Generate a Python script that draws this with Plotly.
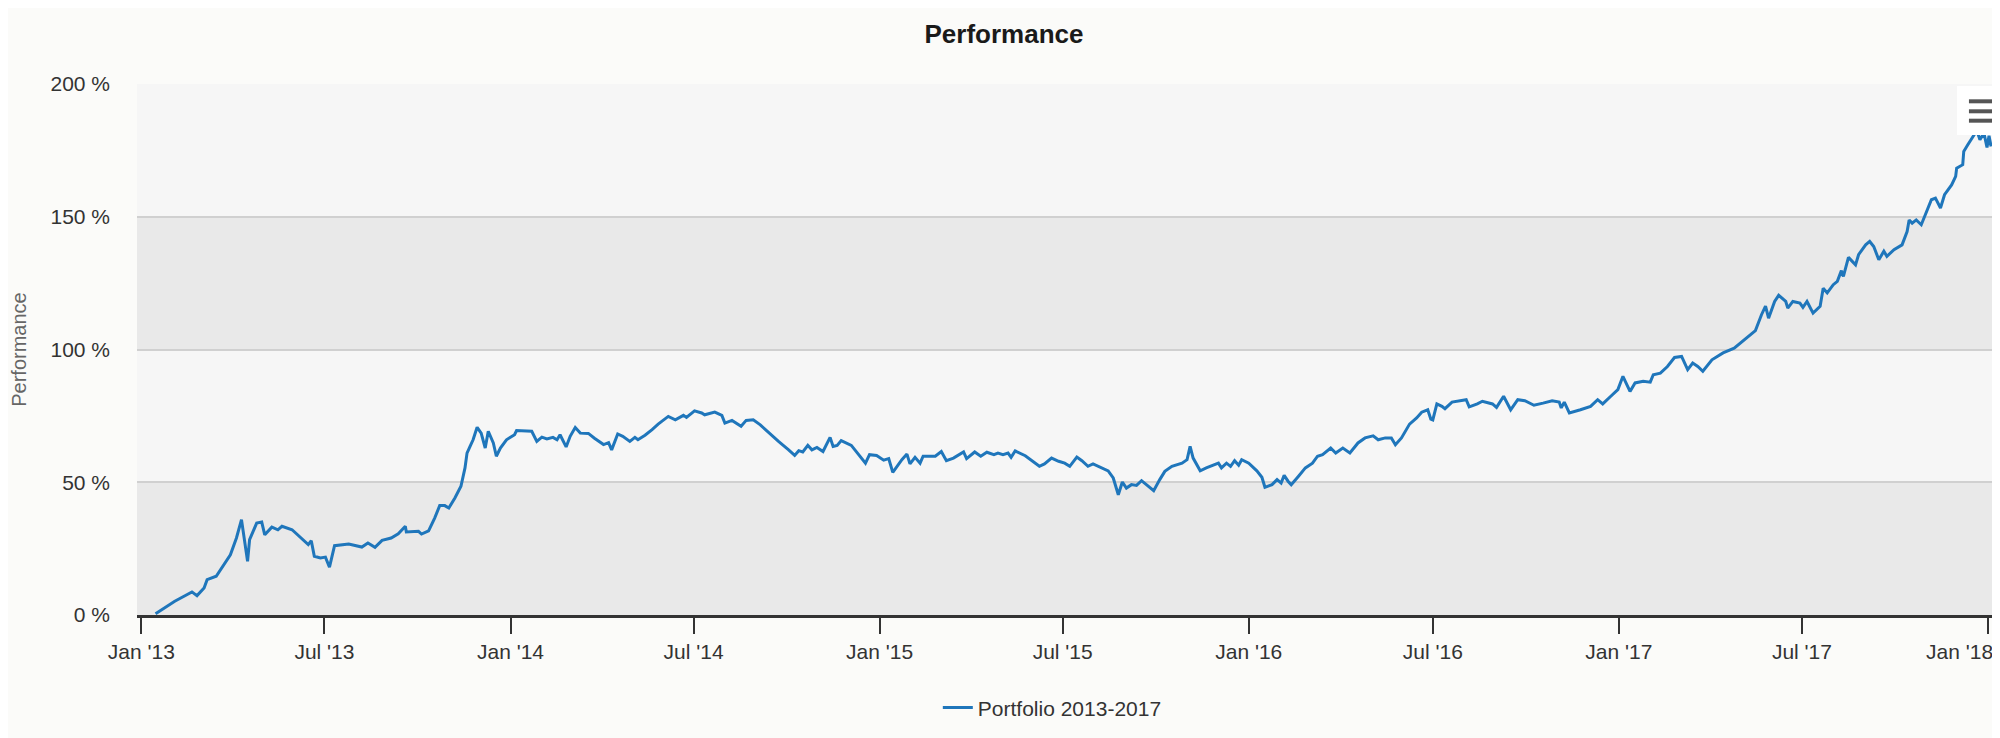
import plotly.graph_objects as go
import pandas as pd

# ---------------- data ----------------
dates = [
    "2013-01-15", "2013-02-03", "2013-02-20", "2013-02-25", "2013-03-04", "2013-03-07", "2013-03-16",
    "2013-03-23", "2013-03-30", "2013-04-05", "2013-04-10", "2013-04-16", "2013-04-18", "2013-04-25",
    "2013-04-30", "2013-05-03", "2013-05-10", "2013-05-16", "2013-05-20", "2013-05-30", "2013-06-08",
    "2013-06-15", "2013-06-18", "2013-06-21", "2013-06-27", "2013-07-02", "2013-07-06", "2013-07-11",
    "2013-07-25", "2013-08-07", "2013-08-13", "2013-08-20", "2013-08-27", "2013-09-05", "2013-09-12",
    "2013-09-19", "2013-09-20", "2013-10-02", "2013-10-05", "2013-10-12", "2013-10-18", "2013-10-23",
    "2013-10-28", "2013-11-01", "2013-11-07", "2013-11-13", "2013-11-17", "2013-11-19", "2013-11-22",
    "2013-11-25", "2013-11-29", "2013-12-03", "2013-12-07", "2013-12-10", "2013-12-15", "2013-12-18",
    "2013-12-22", "2013-12-28",
    "2014-01-05", "2014-01-07", "2014-01-22", "2014-01-27", "2014-02-01", "2014-02-06", "2014-02-12",
    "2014-02-16", "2014-02-19", "2014-02-25", "2014-03-01", "2014-03-06", "2014-03-11", "2014-03-19",
    "2014-03-25", "2014-04-03", "2014-04-08", "2014-04-11", "2014-04-17", "2014-04-22", "2014-04-29",
    "2014-05-04", "2014-05-07", "2014-05-14", "2014-05-21", "2014-05-27", "2014-06-06", "2014-06-13",
    "2014-06-21", "2014-06-24", "2014-07-02", "2014-07-09", "2014-07-12", "2014-07-22", "2014-07-29",
    "2014-08-01", "2014-08-08", "2014-08-17", "2014-08-22", "2014-08-29", "2014-09-05", "2014-09-13",
    "2014-09-23", "2014-10-03", "2014-10-09", "2014-10-13", "2014-10-17", "2014-10-22", "2014-10-26",
    "2014-10-31", "2014-11-06", "2014-11-13", "2014-11-16", "2014-11-20", "2014-11-24", "2014-12-04",
    "2014-12-11", "2014-12-18", "2014-12-22", "2014-12-29",
    "2015-01-05", "2015-01-10", "2015-01-14", "2015-01-23", "2015-01-28", "2015-01-31", "2015-02-05",
    "2015-02-10", "2015-02-13", "2015-02-25", "2015-03-03", "2015-03-08", "2015-03-15", "2015-03-25",
    "2015-03-28", "2015-04-05", "2015-04-11", "2015-04-17", "2015-04-24", "2015-04-28", "2015-05-03",
    "2015-05-08", "2015-05-11", "2015-05-15", "2015-05-25", "2015-06-02", "2015-06-08", "2015-06-13",
    "2015-06-20", "2015-06-27", "2015-07-03", "2015-07-08", "2015-07-15", "2015-07-20", "2015-07-26",
    "2015-07-31", "2015-08-07", "2015-08-15", "2015-08-20", "2015-08-25", "2015-08-29", "2015-09-02",
    "2015-09-07", "2015-09-12", "2015-09-17", "2015-09-24", "2015-09-29", "2015-10-05", "2015-10-10",
    "2015-10-17", "2015-10-22", "2015-10-27", "2015-11-01", "2015-11-04", "2015-11-07", "2015-11-14",
    "2015-11-20", "2015-11-27", "2015-12-02", "2015-12-05", "2015-12-10", "2015-12-14", "2015-12-18",
    "2015-12-22", "2015-12-25",
    "2016-01-01", "2016-01-09", "2016-01-14", "2016-01-17", "2016-01-24", "2016-01-29", "2016-02-02",
    "2016-02-05", "2016-02-09", "2016-02-12", "2016-02-19", "2016-02-26", "2016-03-04", "2016-03-09",
    "2016-03-14", "2016-03-22", "2016-03-27", "2016-04-03", "2016-04-10", "2016-04-18", "2016-04-25",
    "2016-05-03", "2016-05-08", "2016-05-15", "2016-05-21", "2016-05-25", "2016-05-31", "2016-06-08",
    "2016-06-15", "2016-06-20", "2016-06-26", "2016-06-29", "2016-07-01", "2016-07-05", "2016-07-10",
    "2016-07-13", "2016-07-20", "2016-07-26", "2016-07-30", "2016-08-03", "2016-08-06", "2016-08-14",
    "2016-08-19", "2016-08-29", "2016-09-02", "2016-09-09", "2016-09-16", "2016-09-23", "2016-09-30",
    "2016-10-09", "2016-10-18", "2016-10-27", "2016-11-03", "2016-11-05", "2016-11-08", "2016-11-13",
    "2016-11-24", "2016-12-04", "2016-12-11", "2016-12-16", "2016-12-24", "2016-12-31",
    "2017-01-05", "2017-01-12", "2017-01-17", "2017-01-25", "2017-02-01", "2017-02-04", "2017-02-11",
    "2017-02-18", "2017-02-25", "2017-03-04", "2017-03-10", "2017-03-15", "2017-03-20", "2017-03-25",
    "2017-04-03", "2017-04-14", "2017-04-25", "2017-05-05", "2017-05-16", "2017-05-22", "2017-05-26",
    "2017-05-29", "2017-06-04", "2017-06-08", "2017-06-15", "2017-06-17", "2017-06-22", "2017-06-29",
    "2017-07-02", "2017-07-06", "2017-07-12", "2017-07-19", "2017-07-22", "2017-07-26", "2017-08-01",
    "2017-08-05", "2017-08-09", "2017-08-11", "2017-08-16", "2017-08-23", "2017-08-26", "2017-09-02",
    "2017-09-06", "2017-09-10", "2017-09-15", "2017-09-20", "2017-09-23", "2017-09-30", "2017-10-08",
    "2017-10-13", "2017-10-15", "2017-10-18", "2017-10-22", "2017-10-27", "2017-11-01", "2017-11-06",
    "2017-11-10", "2017-11-15", "2017-11-19", "2017-11-26", "2017-11-30", "2017-12-01", "2017-12-07",
    "2017-12-08", "2017-12-12", "2017-12-17", "2017-12-21", "2017-12-24", "2017-12-28", "2017-12-31",
    "2018-01-02", "2018-01-04",
]

performance = [
    0.5, 5.2, 8.7, 7.3, 10.2, 13.3, 14.6,
    18.9, 22.7, 29.0, 35.9, 20.2, 28.4, 34.6,
    35.0, 30.2, 33.1, 32.1, 33.4, 32.1, 29.0,
    26.5, 28.0, 22.1, 21.5, 21.8, 18.0, 26.1,
    26.7, 25.6, 27.1, 25.5, 28.1, 29.0, 30.6,
    33.4, 31.3, 31.5, 30.5, 31.7, 36.5, 41.2,
    41.2, 40.3, 44.1, 48.5, 55.4, 61.0, 63.5,
    66.0, 70.7, 68.5, 62.9, 69.2, 64.8, 59.8,
    62.9, 66.0,
    67.9, 69.5, 69.2, 65.4, 67.0, 66.3, 66.9,
    66.0, 67.9, 63.3, 67.3, 70.6, 68.5, 68.4,
    66.6, 64.2, 64.9, 62.2, 68.2, 67.3, 65.4,
    66.9, 66.0, 67.7, 69.8, 71.9, 74.8, 73.5,
    75.2, 74.4, 76.9, 76.1, 75.4, 76.4, 75.2,
    72.3, 73.3, 71.1, 73.3, 73.5, 71.6, 68.8,
    65.4, 62.2, 60.1, 61.9, 61.4, 63.9, 62.2,
    63.1, 61.6, 66.9, 63.5, 63.9, 65.7, 63.9,
    60.6, 57.2, 60.4, 60.1,
    58.3, 58.9, 53.7, 58.5, 60.6, 56.9, 59.4,
    57.2, 59.8, 59.8, 61.6, 58.1, 59.1, 61.4,
    58.9, 61.4, 59.8, 61.3, 60.4, 61.0, 60.4,
    61.0, 59.4, 61.8, 60.0, 57.8, 56.0, 56.9,
    59.1, 57.9, 57.2, 56.0, 59.5, 58.1, 56.0,
    56.9, 55.6, 54.3, 51.6, 45.3, 50.1, 47.8,
    49.1, 48.8, 50.6, 48.5, 46.8, 51.0, 54.1,
    56.0, 56.6, 57.2, 58.5, 63.5, 59.1, 54.3,
    55.4, 56.4, 57.2, 55.4, 57.2, 56.0, 58.1,
    56.4, 58.5,
    57.2, 54.3, 51.9, 48.1, 49.1, 51.0, 49.7,
    52.6, 50.3, 49.1, 52.2, 55.4, 57.2, 59.8,
    60.4, 62.9, 61.0, 62.9, 61.0, 64.8, 66.7,
    67.5, 66.0, 66.7, 66.7, 64.1, 66.7, 71.9,
    74.2, 76.4, 77.3, 73.8, 73.5, 79.5, 78.6,
    77.7, 80.2, 80.7, 80.8, 81.1, 78.4, 79.5,
    80.5, 79.5, 78.2, 82.4, 77.3, 81.1, 80.7,
    79.0, 79.8, 80.7, 80.2, 78.0, 80.2, 76.1,
    77.3, 78.6, 81.1, 79.5, 82.4, 84.9,
    89.9, 84.2, 87.4, 88.0, 87.7, 90.5, 91.1,
    93.6, 97.0, 97.4, 92.4, 94.9, 93.6, 91.8,
    96.1, 98.7, 100.5, 103.7, 107.1, 113.1, 116.3,
    111.8, 118.1, 120.4, 118.1, 115.6, 118.1, 117.5,
    115.9, 118.1, 113.7, 116.3, 123.1, 121.3, 124.4,
    125.7, 129.7, 127.5, 134.7, 131.9, 135.7, 139.4,
    140.7, 138.8, 133.8, 137.0, 135.1, 137.6, 139.4,
    144.4, 148.8, 147.6, 148.8, 147.0, 152.0, 156.4,
    157.0, 153.3, 158.3, 162.0, 165.2, 168.3, 169.6,
    174.6, 177.1, 180.2, 182.5, 179.0, 181.5, 176.1,
    180.5, 176.5,
]

series_name = "Portfolio 2013-2017"
y_ticks = [0, 50, 100, 150, 200]
x_tick_dates = ["2013-01-01", "2013-07-01", "2014-01-01", "2014-07-01", "2015-01-01",
                "2015-07-01", "2016-01-01", "2016-07-01", "2017-01-01", "2017-07-01", "2018-01-01"]
x_range = ["2012-12-27 16:00", "2018-01-17 19:00"]

FONT = "Liberation Sans, Arial, Helvetica, sans-serif"
LINE_COLOR = "#1f76bb"
TICK_COLOR = "#333333"

x_tick_text = [pd.Timestamp(d).strftime("%b '%y") for d in x_tick_dates]
y_tick_text = [f"{v} %" for v in y_ticks]

fig = go.Figure()
fig.add_trace(go.Scatter(
    x=dates, y=performance, mode="lines", name=series_name,
    line=dict(color=LINE_COLOR, width=3),
))

shapes = []
# alternating plot bands
for i in range(len(y_ticks) - 1):
    shapes.append(dict(
        type="rect", xref="paper", yref="y", x0=0, x1=1,
        y0=y_ticks[i], y1=y_ticks[i + 1], layer="below", line=dict(width=0),
        fillcolor="#e9e9e9" if i % 2 == 0 else "#f6f6f6",
    ))
# context-menu (hamburger) button
shapes.append(dict(type="rect", xref="paper", yref="paper", x0=0.9743, x1=1.0016,
                   y0=0.904, y1=0.9962, layer="above", fillcolor="white", line=dict(width=0)))
for yy in [0.9674, 0.9486, 0.9309]:
    shapes.append(dict(type="line", xref="paper", yref="paper", x0=0.9807, x1=0.9952,
                       y0=yy, y1=yy, layer="above", line=dict(color="#555555", width=4)))
# container borders
shapes.append(dict(type="line", xref="paper", yref="paper", x0=-0.07, x1=1.002,
                   y0=-0.243, y1=-0.243, line=dict(color="#e2e2e2", width=2)))
shapes.append(dict(type="line", xref="paper", yref="paper", x0=1.0, x1=1.0,
                   y0=-0.243, y1=1.15, line=dict(color="#e6e6e6", width=1.5)))

# last x label is pushed inside the chart (as the original renderer does)
annotations = [dict(
    x=x_tick_dates[-1], xref="x", y=0, yref="paper", yanchor="top", xanchor="right",
    text=x_tick_text[-1], showarrow=False, xshift=6, yshift=-24, borderpad=0,
    font=dict(family=FONT, size=21, color=TICK_COLOR),
)]

fig.update_layout(
    width=2000, height=738,
    margin=dict(l=129, r=3, t=76, b=131),
    paper_bgcolor="#fbfbf9",
    plot_bgcolor="#f6f6f6",
    font=dict(family=FONT, color=TICK_COLOR, size=21),
    title=dict(text="Performance", x=0.498, xanchor="center", y=0.965, yanchor="middle",
               xref="container", yref="container",
               font=dict(family=FONT, size=26, color="#1a1a1a", weight="bold")),
    showlegend=True,
    legend=dict(orientation="h", x=0.49, xanchor="center", y=-0.175, yanchor="middle",
                font=dict(family=FONT, size=21, color=TICK_COLOR), bgcolor="rgba(0,0,0,0)"),
    shapes=shapes,
    annotations=annotations,
    hovermode="x",
)

fig.update_xaxes(
    type="date", range=x_range,
    tickvals=x_tick_dates, ticktext=x_tick_text[:-1] + [""],
    showgrid=False, zeroline=False,
    showline=True, linecolor=TICK_COLOR, linewidth=3,
    ticks="outside", ticklen=16, tickwidth=1.5, tickcolor=TICK_COLOR,
    tickfont=dict(family=FONT, size=21, color=TICK_COLOR),
)
fig.update_yaxes(
    range=[0, 200], tickvals=y_ticks, ticktext=y_tick_text,
    showgrid=True, gridcolor="#d0d0d0", gridwidth=1.5,
    zeroline=False, showline=False, ticks="",
    ticklabelstandoff=26,
    tickfont=dict(family=FONT, size=21, color=TICK_COLOR),
    title=dict(text="Performance", standoff=18,
               font=dict(family=FONT, size=20, color="#666666")),
)

fig.write_html("out.html")
